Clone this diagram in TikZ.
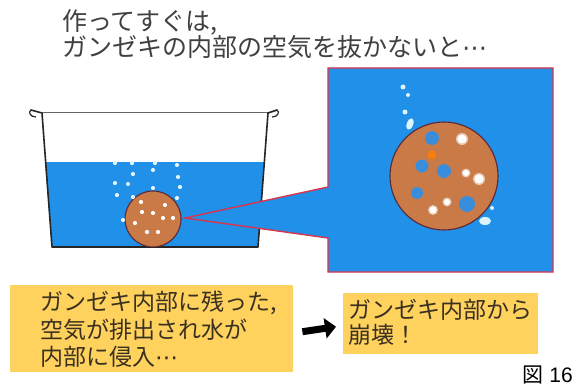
\documentclass[tikz,border=0pt]{standalone}
\usepackage{fontspec}
\usetikzlibrary{arrows.meta}
\newfontfamily\jpfont{Noto Sans CJK JP}
\newfontfamily\numfont{Liberation Sans}
\newfontfamily\dotfont{DejaVu Sans}
% Japanese-style ellipsis: one em wide, dots at mid height
\newcommand\jpdots{\makebox[1em][c]{\dotfont ⋯}}
\definecolor{water}{HTML}{2190E8}
\definecolor{rock}{HTML}{C97A46}
\definecolor{rockline}{HTML}{5A2838}
\definecolor{callred}{HTML}{D8344C}
\definecolor{notebox}{HTML}{FFD25E}
\definecolor{inktext}{HTML}{404040}
\definecolor{boxtext}{HTML}{3A3020}
\definecolor{hole}{HTML}{3A8DDA}
\definecolor{bubble}{HTML}{DDF4FF}
\tikzset{
  titletext/.style={anchor=base west,inner sep=0pt,text=inktext,font=\jpfont\fontsize{25}{26}\selectfont},
  notetext/.style={anchor=north west,align=left,inner sep=0pt,text=boxtext},
  notefill/.style={fill=notebox,draw=none,inner sep=0pt},
  potwall/.style={draw=black!85,line width=1.6pt,line cap=round,line join=round},
  rockball/.style={fill=rock,draw=rockline,line width=1.1pt},
  whitedot/.style={fill=white,draw=none},
  airdot/.style={fill=bubble,draw=none},
  holedot/.style={fill=hole,draw=none},
}
\begin{document}
\begin{tikzpicture}[x=1pt,y=-1pt]
\useasboundingbox[fill=white] (0,0) rectangle (577,385);

% heading
\node[titletext] (head1) at (62,31) {作ってすぐは,};
\node[titletext] (head2) at (62,57) {ガンゼキの内部の空気を抜かないと\jpdots};

% pot with water
\fill[water] (45,162) -- (264,162) -- (258,247) -- (52,247) -- cycle;
\draw[black!60,line width=0.8pt] (42,112) -- (268,112);
\draw[potwall] (31,110) -- (42,113) -- (52,247) -- (258,247) -- (268,113) -- (277,110);
\draw[black!85,line width=1.2pt] (31,110) .. controls (28,112) and (30,117) .. (36,117);
\draw[black!85,line width=1.2pt] (277,110) .. controls (280,112) and (278,117) .. (272,117);

% callout frame with its pointer
\filldraw[fill=water,draw=callred,line width=1.4pt,line join=miter]
  (328,68) -- (553,68) -- (553,272) -- (328,272) -- (328,238) -- (185,218) -- (328,187) -- cycle;

% small stone in the pot
\node[rockball,circle,minimum size=56pt,inner sep=0pt] (stone) at (153,219) {};
\foreach \p in {(142,212),(153,213),(163,218),(135,223),(173,218),(158,232),(147,232),(165,205),(141,202)}
  \fill[whitedot] \p circle (2.1);
\foreach \p in {(115,163),(132,163),(155,163),(177,165),(133,174),(153,170),(178,177),(115,183),(128,184),(153,188),(180,187),(117,195),(133,197),(177,198),(123,220)}
  \fill[airdot] \p circle (2.1);

% enlarged stone
\node[rockball,circle,minimum size=108pt,inner sep=0pt] (bigstone) at (444,176) {};
\fill[holedot] (432,138) circle (7);
\fill[holedot] (422,166) circle (6.5);
\fill[holedot] (444,171) circle (7);
\fill[holedot] (417,193) circle (6);
\fill[holedot] (467,204) circle (8);
\fill[orange!80!rock] (432,155) circle (4.5);
\foreach \p/\r in {(462,139)/4.5,(466,173)/3,(479,179)/4.5,(447,202)/3,(433,210)/3.5}{
  \fill[white!60!rock] \p circle (\r+1.5);
  \fill[whitedot] \p circle (\r);
}
\fill[airdot] (403,87) circle (2.5);
\fill[airdot] (408,95) circle (2);
\fill[airdot] (405,112) circle (2.5);
\fill[airdot,rotate around={-20:(410,124)}] (410,124) ellipse (3.2 and 6);
\fill[airdot] (485,221) ellipse (6 and 4);
\fill[airdot] (492,208) circle (2);

% notes below
\node[notefill,minimum width=283pt,minimum height=87pt,anchor=north west] (cause) at (10,285) {};
\node[notetext,font=\jpfont\fontsize{23}{27.5}\selectfont] (causetext) at (40,291)
  {ガンゼキ内部に残った,\\空気が排出され水が\\内部に侵入\jpdots};

\node[notefill,minimum width=195pt,minimum height=61pt,anchor=north west] (result) at (343,293) {};
\node[notetext,font=\jpfont\fontsize{23}{25}\selectfont] (resulttext) at (348,299)
  {ガンゼキ内部から\\崩壊！};

\draw[line width=7pt,-{Triangle[length=11pt,width=20pt]},black]
  ([xshift=9pt,yshift=-3pt]cause.east) -- ([xshift=-7pt,yshift=-3pt]result.west);

% figure number
\node[anchor=base east,inner sep=0pt,text=black,font=\fontsize{21}{22}\selectfont] (fignum) at (573,382) {{\jpfont 図} {\numfont 16}};
\end{tikzpicture}
\end{document}
